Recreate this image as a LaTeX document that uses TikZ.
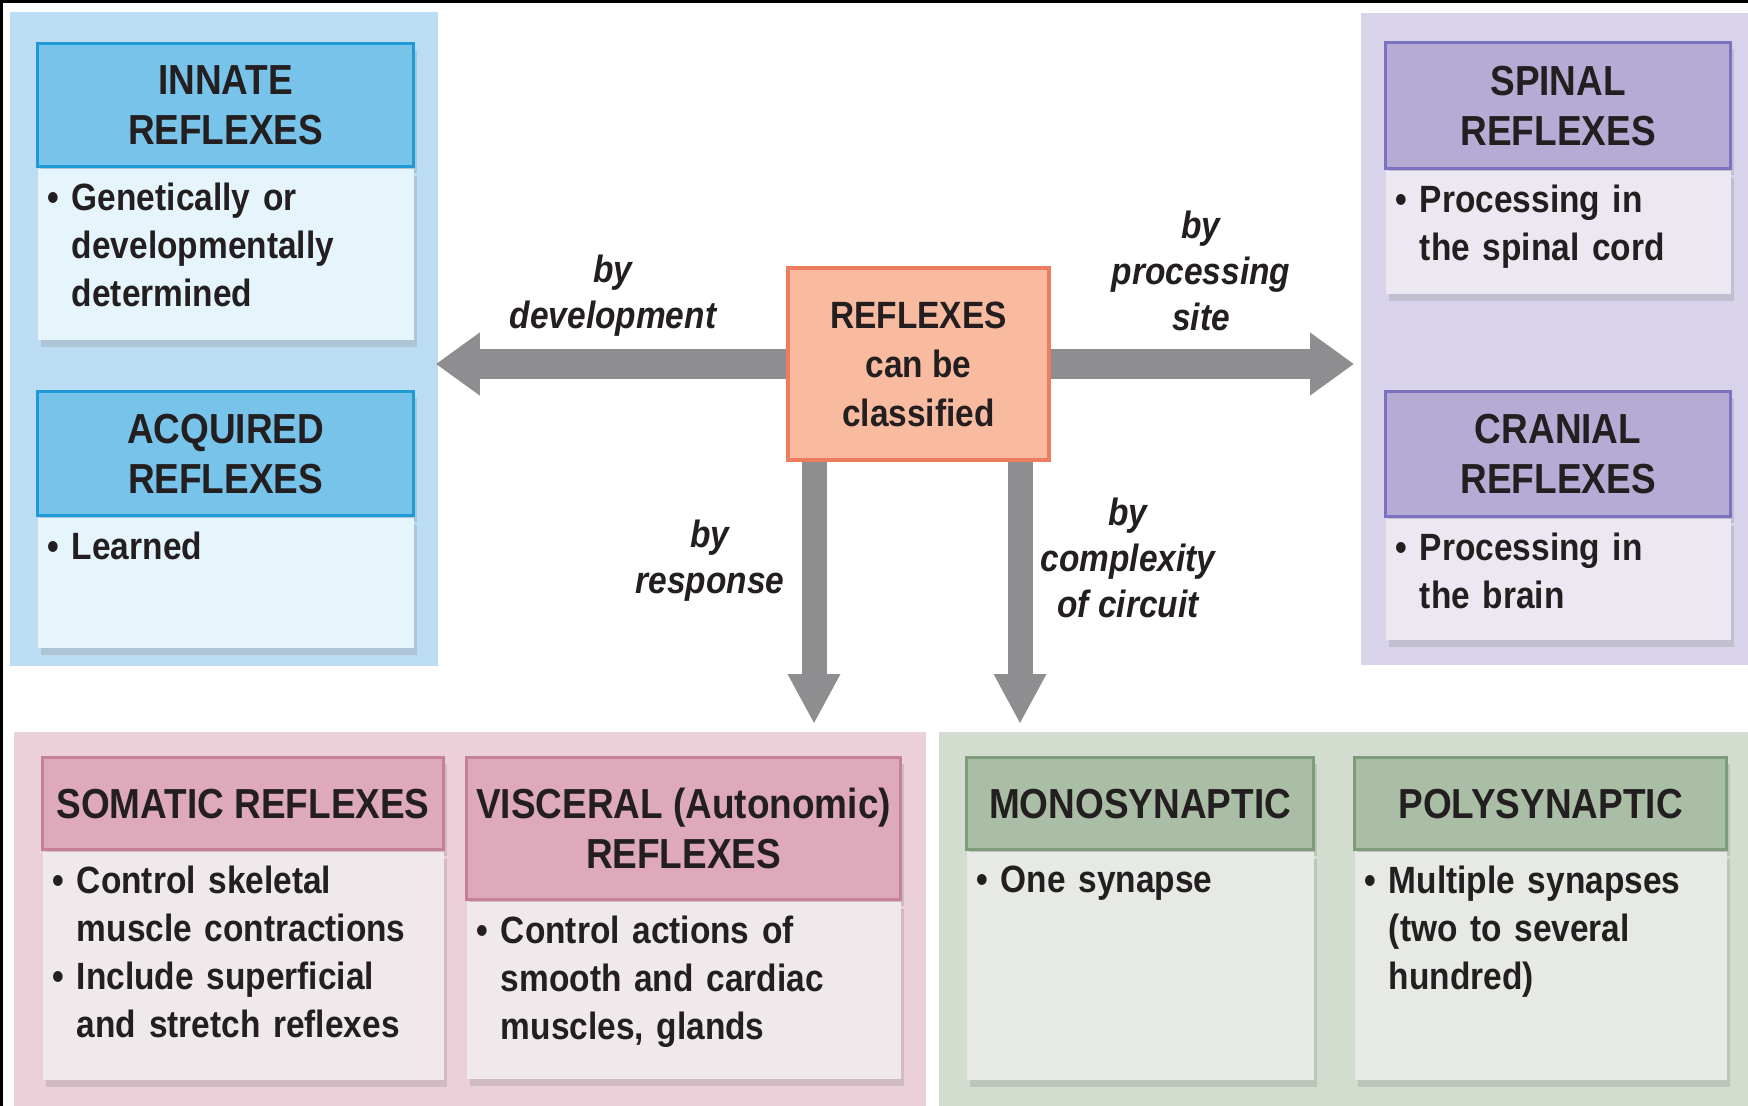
\documentclass[tikz,border=0pt]{standalone}
\usepackage{fontspec}
\setmainfont{Liberation Sans}[FakeStretch=0.88]
\usetikzlibrary{arrows.meta}
\usetikzlibrary{positioning, shadows}

\definecolor{ink}{HTML}{231F20}
\definecolor{arrowgray}{HTML}{8E8E90}
\definecolor{devbg}{HTML}{BBDCF2}
\definecolor{hdblue}{HTML}{77C3EA}
\definecolor{lnblue}{HTML}{1E9BD7}
\definecolor{bdblue}{HTML}{E6F4FC}
\definecolor{sitebg}{HTML}{D8D3EA}
\definecolor{hdpurple}{HTML}{B6ABD5}
\definecolor{lnpurple}{HTML}{7C72C0}
\definecolor{bdpurple}{HTML}{ECE8F2}
\definecolor{respbg}{HTML}{EBCFD9}
\definecolor{hdpink}{HTML}{DDA9BB}
\definecolor{lnpink}{HTML}{C5809B}
\definecolor{bdpink}{HTML}{F0E9EB}
\definecolor{circbg}{HTML}{D2DDD0}
\definecolor{hdgreen}{HTML}{A9BEA5}
\definecolor{lngreen}{HTML}{7E9C7A}
\definecolor{bdgreen}{HTML}{E7E9E5}
\definecolor{corefill}{HTML}{F9BBA0}
\definecolor{coreline}{HTML}{EE7D5F}

% bullet with hanging indent, and a top aligned body of fixed height
\newcommand{\bul}[1]{\par\setbox0\hbox{\textbullet\ }\hangindent=\wd0 \hangafter=1 \noindent\box0 #1}
\newcommand{\topbox}[2]{\parbox[t][#1][t]{\linewidth}{\raggedright\let\\\newline #2}}

\tikzset{
    panel/.style={fill=#1, inner sep=0pt, anchor=north west},
    hd/.style 2 args={fill=#1, draw=#2, line width=1.6pt, align=center, inner sep=2pt,
        anchor=north west, font=\bfseries\fontsize{21}{25}\selectfont,
        drop shadow={opacity=0.25, shadow xshift=1.5pt, shadow yshift=-3pt}},
    bd/.style={fill=#1, inner xsep=5pt, inner ysep=7pt, align=left,
        font=\bfseries\fontsize{19}{24}\selectfont,
        drop shadow={opacity=0.25, shadow xshift=1.5pt, shadow yshift=-3.5pt}},
    core/.style={fill=corefill, draw=coreline, line width=2pt, align=center,
        font=\bfseries\fontsize{19}{24.5}\selectfont},
    bylabel/.style={align=center, font=\bfseries\itshape\fontsize{19}{23}\selectfont},
    fatarrow/.style={draw=arrowgray, line width=15pt, -{Triangle[length=22pt, width=30pt]}},
    downarrow/.style={draw=arrowgray, line width=12.5pt, -{Triangle[length=25pt, width=24.5pt]}}
}

\begin{document}
\begin{tikzpicture}[x=1pt, y=-1pt, every node/.style={text=ink}]

    \useasboundingbox (0,0) rectangle (874,553);
    \fill[white] (0,0) rectangle (874,553);
    \fill[black] (0,0) rectangle (874,1.5);
    \fill[black] (0,0) rectangle (1.5,553);

    % Background panels
    \node[panel=devbg, minimum width=214pt, minimum height=327pt] (devPanel) at (5,6) {};
    \node[panel=sitebg, minimum width=193.5pt, minimum height=326pt] (sitePanel) at (680.5,6.5) {};
    \node[panel=respbg, minimum width=456pt, minimum height=187pt] (respPanel) at (7,366) {};
    \node[panel=circbg, minimum width=404.5pt, minimum height=187pt] (circPanel) at (469.5,366) {};

    % By development
    \node[hd={hdblue}{lnblue}, minimum width=188pt, minimum height=61.5pt] (innateHd) at (18,21) {INNATE\\REFLEXES};
    \node[bd=bdblue, text width=178pt, below=0pt of innateHd] (innateBd)
        {\topbox{71.5pt}{\bul{Genetically or\\developmentally\\determined}}};
    \node[hd={hdblue}{lnblue}, minimum width=188pt, minimum height=62pt] (acquiredHd) at (18,195) {ACQUIRED\\REFLEXES};
    \node[bd=bdblue, text width=178pt, below=0pt of acquiredHd] (acquiredBd)
        {\topbox{51pt}{\bul{Learned}}};

    % By processing site
    \node[hd={hdpurple}{lnpurple}, minimum width=172.5pt, minimum height=63pt] (spinalHd) at (692,20.5) {SPINAL\\REFLEXES};
    \node[bd=bdpurple, text width=162.5pt, below=0pt of spinalHd] (spinalBd)
        {\topbox{47.5pt}{\bul{Processing in\\the spinal cord}}};
    \node[hd={hdpurple}{lnpurple}, minimum width=172.5pt, minimum height=62.5pt] (cranialHd) at (692,195) {CRANIAL\\REFLEXES};
    \node[bd=bdpurple, text width=162.5pt, below=0pt of cranialHd] (cranialBd)
        {\topbox{46.5pt}{\bul{Processing in\\the brain}}};

    % By response
    \node[hd={hdpink}{lnpink}, minimum width=200.5pt, minimum height=46pt] (somaticHd) at (20.5,378) {SOMATIC REFLEXES};
    \node[bd=bdpink, text width=190.5pt, below=0pt of somaticHd] (somaticBd)
        {\topbox{100pt}{\bul{Control skeletal\\muscle contractions}\bul{Include superficial\\and stretch reflexes}}};
    \node[hd={hdpink}{lnpink}, minimum width=217pt, minimum height=71pt] (visceralHd) at (232.5,378) {VISCERAL (Autonomic)\\REFLEXES};
    \node[bd=bdpink, text width=207pt, below=0pt of visceralHd] (visceralBd)
        {\topbox{74.5pt}{\bul{Control actions of\\smooth and cardiac\\muscles, glands}}};

    % By complexity of circuit
    \node[hd={hdgreen}{lngreen}, minimum width=173.5pt, minimum height=46pt] (monoHd) at (482.5,378) {MONOSYNAPTIC};
    \node[bd=bdgreen, text width=163.5pt, below=0pt of monoHd] (monoBd)
        {\topbox{100pt}{\bul{One synapse}}};
    \node[hd={hdgreen}{lngreen}, minimum width=186pt, minimum height=46pt] (polyHd) at (676.5,378) {POLYSYNAPTIC};
    \node[bd=bdgreen, text width=176pt, below=0pt of polyHd] (polyBd)
        {\topbox{100pt}{\bul{Multiple synapses\\(two to several\\hundred)}}};

    % Centre box
    \node[core, minimum width=130.5pt, minimum height=96pt] (reflex) at (459.25,182) {REFLEXES\\can be\\classified};

    % Arrows
    \draw[fatarrow, shorten >=-1.5pt] (reflex.west) -- (reflex.west -| devPanel.east);
    \draw[fatarrow, shorten >=3.5pt] (reflex.east) -- (reflex.east -| sitePanel.west);
    \coordinate (respTop) at ([xshift=14pt]reflex.south west);
    \coordinate (circTop) at ([xshift=-15.5pt]reflex.south east);
    \draw[downarrow, shorten >=4pt] (respTop) -- (respTop |- respPanel.north);
    \draw[downarrow, shorten >=4pt] (circTop) -- (circTop |- circPanel.north);

    % Arrow labels
    \node[bylabel] (devLabel) at (306.5,148) {by\\development};
    \node[bylabel] (siteLabel) at (600.5,135.5) {by\\processing\\site};
    \node[bylabel] (respLabel) at (355,280.5) {by\\response};
    \node[bylabel] (circLabel) at (564,279) {by\\complexity\\of circuit};

\end{tikzpicture}
\end{document}
